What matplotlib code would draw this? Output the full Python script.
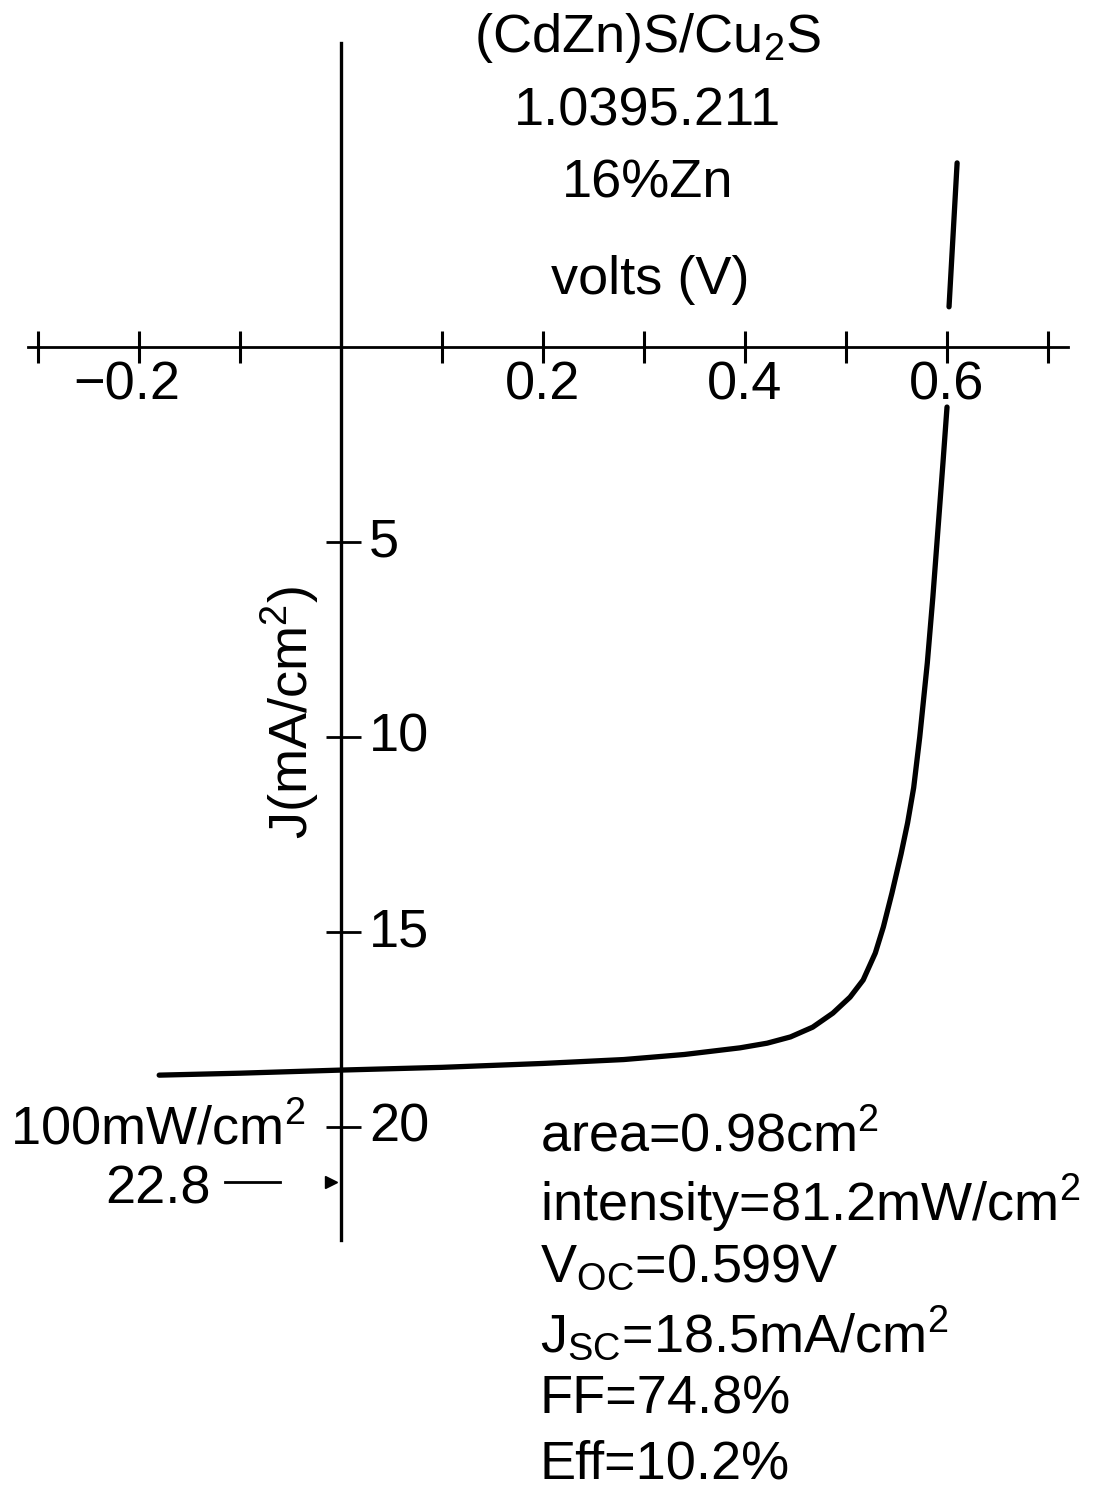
import matplotlib
matplotlib.use("Agg")
import matplotlib.pyplot as plt

plt.rcParams['font.family'] = ['Liberation Sans', 'DejaVu Sans']
plt.rcParams['mathtext.fontset'] = 'custom'
plt.rcParams['mathtext.rm'] = 'Liberation Sans'
plt.rcParams['mathtext.it'] = 'Liberation Sans:italic'

# J-V curve (J positive = downwards)
volts = [-0.18, -0.1, 0.0, 0.1, 0.2, 0.28, 0.34, 0.395, 0.422, 0.445, 0.467,
         0.487, 0.504, 0.517, 0.529, 0.537, 0.5455, 0.5545, 0.561, 0.567,
         0.573, 0.5805, 0.586, 0.591, 0.596, 0.600]
current = [18.67, 18.62, 18.54, 18.47, 18.37, 18.27, 18.14, 17.97, 17.85, 17.69, 17.44,
           17.08, 16.67, 16.23, 15.54, 14.87, 14.0, 13.0, 12.2, 11.3,
           10.0, 8.1, 6.41, 4.69, 2.97, 1.54]
# short piece above the voltage axis
volts_top = [0.602, 0.606, 0.610]
current_top = [-1.03, -2.87, -4.72]

x_ticks = [-0.3, -0.2, -0.1, 0.1, 0.2, 0.3, 0.4, 0.5, 0.6, 0.7]
x_ticklabels = {-0.2: '\u22120.2', 0.2: '0.2', 0.4: '0.4', 0.6: '0.6'}
y_ticks = [5, 10, 15, 20]

title_lines = ['(CdZn)S/Cu$_\\mathregular{2}$S', '1.0395.211', '16%Zn']
info_lines = ['area=0.98cm$^\\mathregular{2}$',
              'intensity=81.2mW/cm$^\\mathregular{2}$',
              'V$_\\mathregular{OC}$=0.599V',
              'J$_\\mathregular{SC}$=18.5mA/cm$^\\mathregular{2}$',
              'FF=74.8%',
              'Eff=10.2%']

W, H = 1117, 1487
fig = plt.figure(figsize=(W / 100, H / 100), dpi=100)
ax = fig.add_axes([0, 0, 1, 1])
ax.set_xlim(-0.3376, 0.7683)
ax.set_ylim(29.23, -8.897)
ax.axis('off')

fs = 39

# axes drawn by hand, patent style
ax.plot([-0.31, 0.72], [0, 0], color='black', lw=2.0)
ax.plot([0, 0], [-7.8, 22.9], color='black', lw=2.4)
ax.vlines(x_ticks, -0.4, 0.4, color='black', lw=2.2)
ax.hlines(y_ticks, -0.015, 0.02, color='black', lw=2.0)

for v, lab in x_ticklabels.items():
    ax.text(v - (0.012 if v < 0 else 0), 1.0, lab, ha='center', va='center', fontsize=fs)
for j in y_ticks:
    ax.text(0.028, j, str(j), ha='left', va='center', fontsize=fs)

# the curve
ax.plot(volts, current, color='black', lw=3.8, solid_capstyle='round',
        solid_joinstyle='round')
ax.plot(volts_top, current_top, color='black', lw=3.8, solid_capstyle='round')

# labels
for i, t in enumerate(title_lines):
    fig.text(648 / W, 1 - (38 + 73 * i) / H, t, ha='center', va='center', fontsize=fs)
fig.text(650 / W, 1 - 280 / H, 'volts (V)', ha='center', va='center', fontsize=fs)
fig.text(290 / W, 1 - 712 / H, 'J(mA/cm$^\\mathregular{2}$)', ha='center', va='center',
         rotation=90, fontsize=fs)

fig.text(10 / W, 1 - 1130 / H, '100mW/cm$^\\mathregular{2}$', ha='left', va='center', fontsize=fs)
fig.text(105 / W, 1 - 1190 / H, '22.8', ha='left', va='center', fontsize=fs)
ax.plot([-0.115, -0.06], [21.4, 21.4], color='black', lw=2.0)
ax.plot([-0.01], [21.4], marker='>', color='black', ms=8)

for i, t in enumerate(info_lines):
    fig.text(540 / W, 1 - (1137 + 65.5 * i) / H, t, ha='left', va='center', fontsize=fs)

fig.savefig('out.png', dpi=100, facecolor='white')
